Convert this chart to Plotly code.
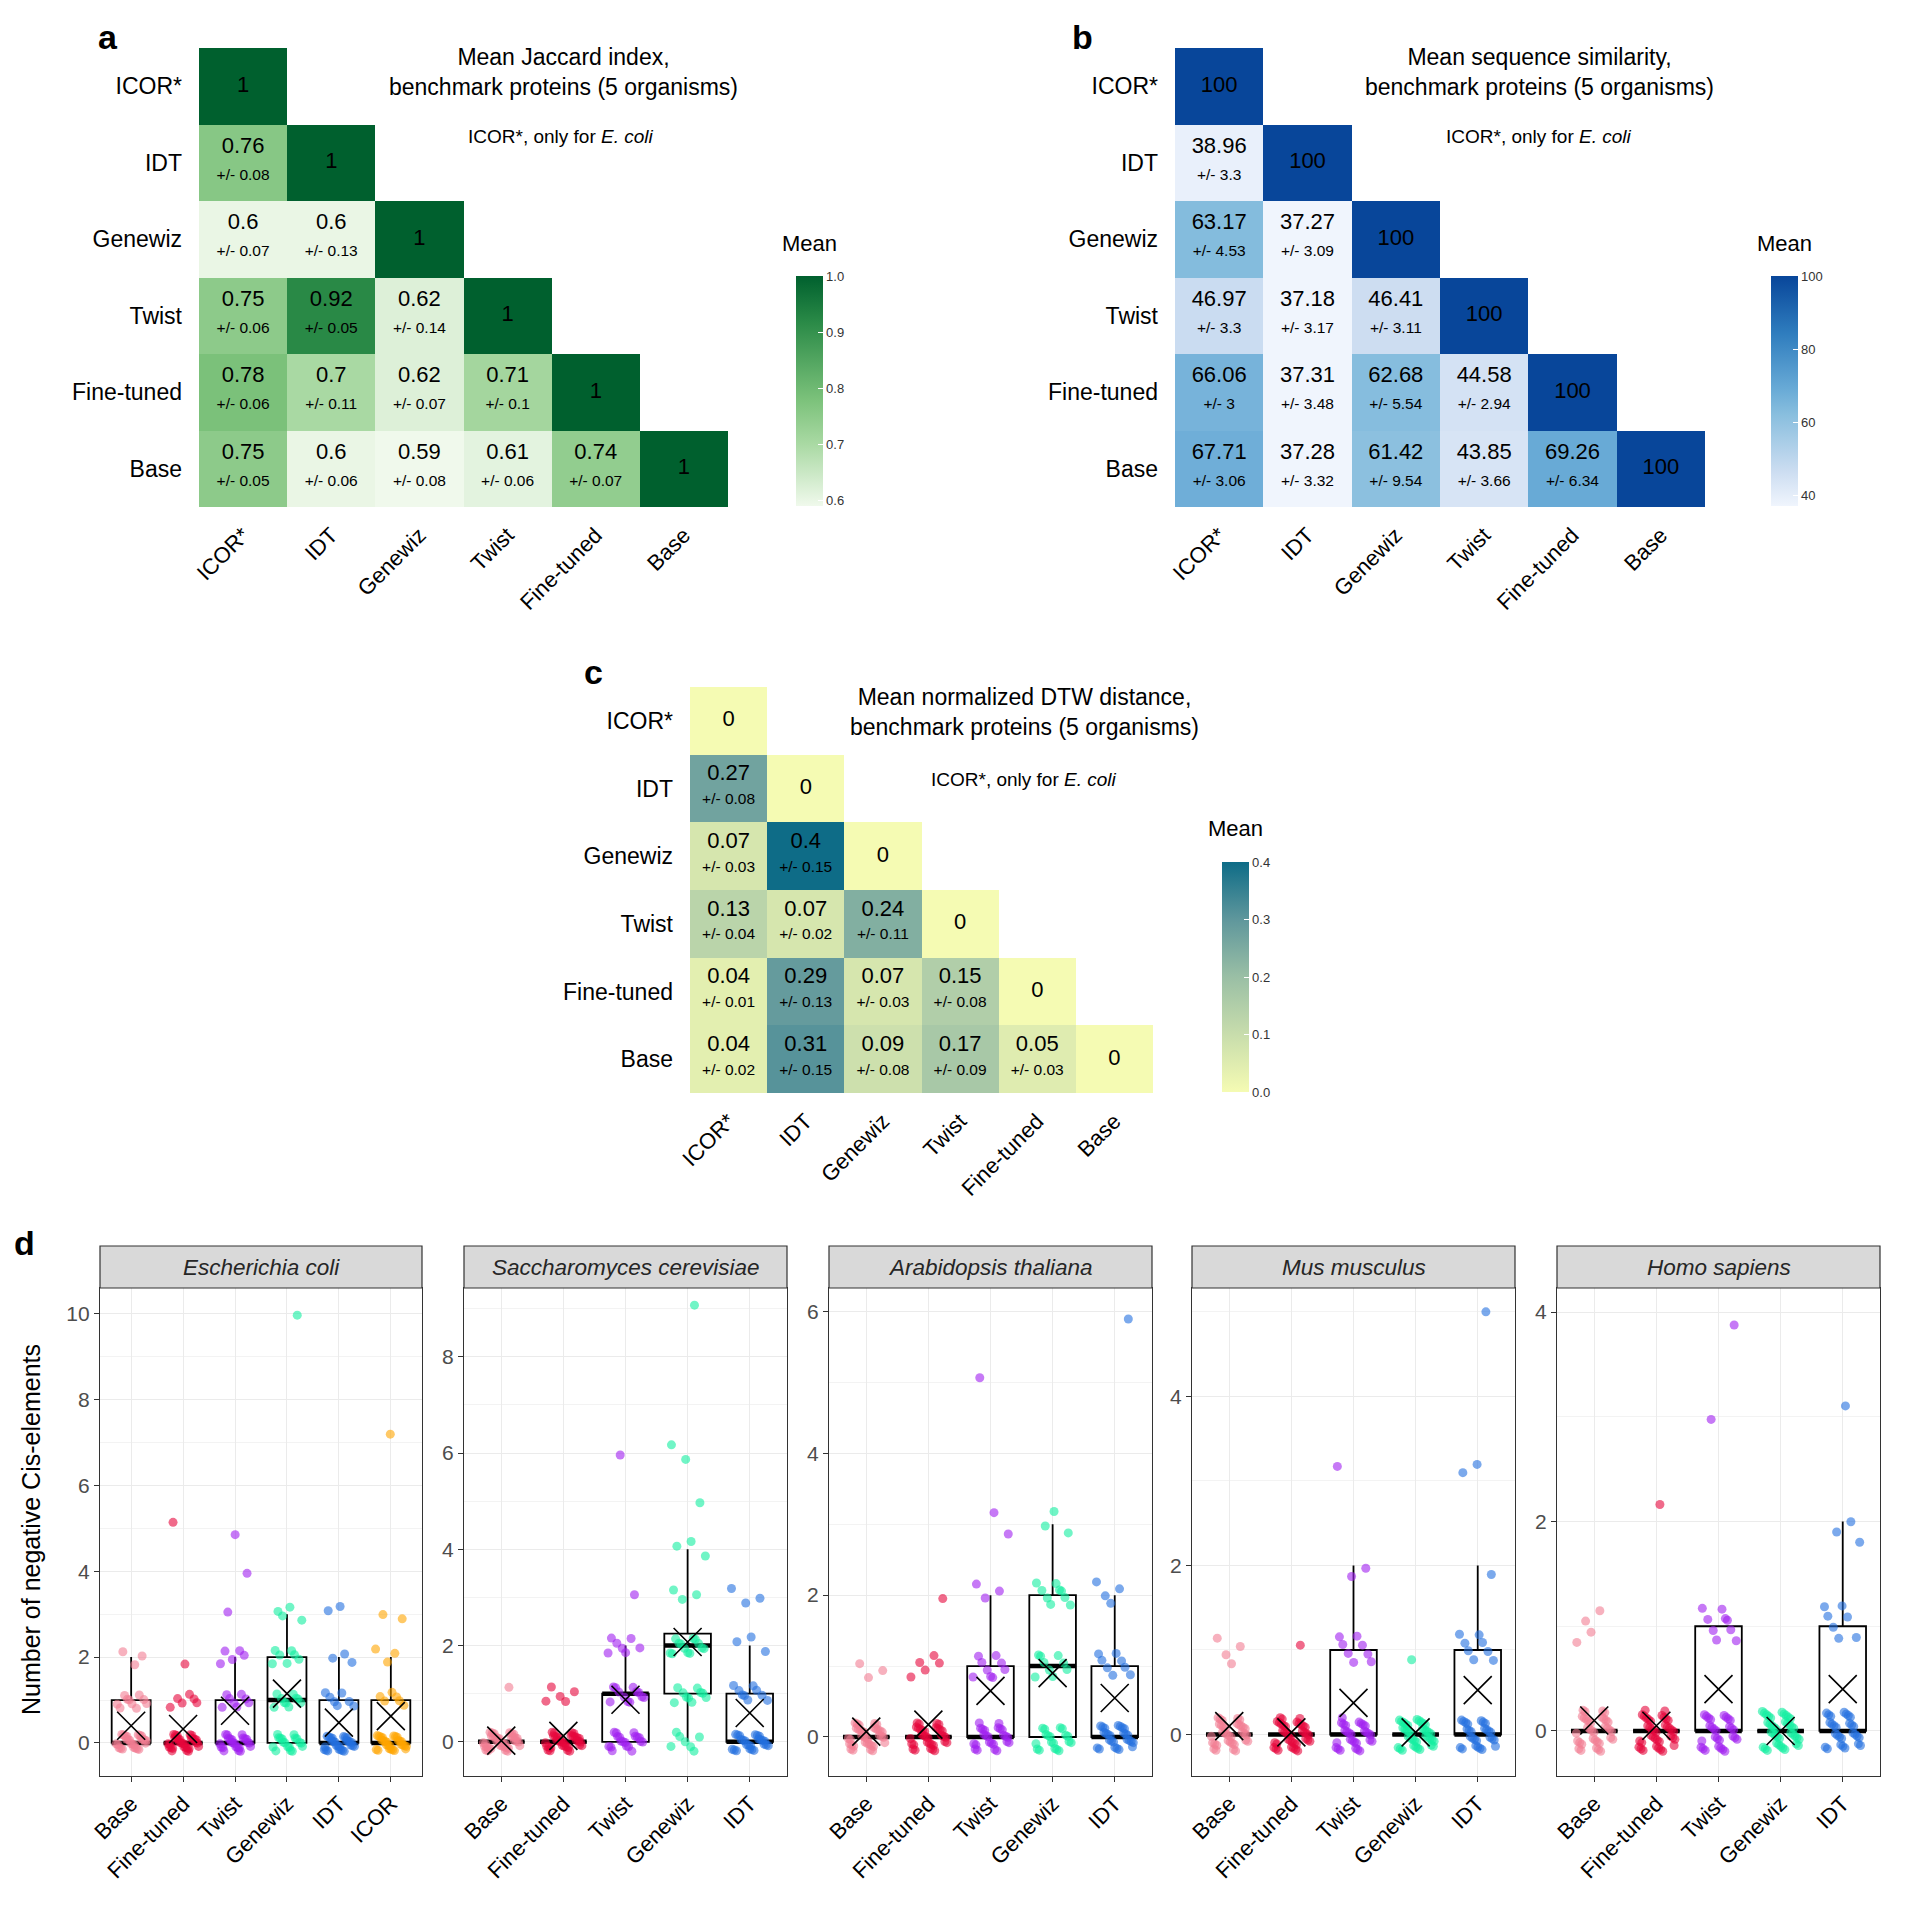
import numpy as np
import plotly.graph_objects as go

W = 1920
H = 1920
PAGE_OFFSET = 8  # default body margin of the html page
FONT = "Liberation Sans, Arial, Helvetica, sans-serif"


def fx(p):
    return (p - PAGE_OFFSET) / W


def fy(p):
    return 1 - (p - PAGE_OFFSET) / H


# ---------------- heatmap data (lower triangle rows; last entry = diagonal) ----------------
hm_labels = ["ICOR*", "IDT", "Genewiz", "Twist", "Fine-tuned", "Base"]

jaccard_mean = [[1], [0.76, 1], [0.6, 0.6, 1], [0.75, 0.92, 0.62, 1],
                [0.78, 0.7, 0.62, 0.71, 1], [0.75, 0.6, 0.59, 0.61, 0.74, 1]]
jaccard_sd = [[None], [0.08, None], [0.07, 0.13, None], [0.06, 0.05, 0.14, None],
              [0.06, 0.11, 0.07, 0.1, None], [0.05, 0.06, 0.08, 0.06, 0.07, None]]

similarity_mean = [[100], [38.96, 100], [63.17, 37.27, 100], [46.97, 37.18, 46.41, 100],
                   [66.06, 37.31, 62.68, 44.58, 100], [67.71, 37.28, 61.42, 43.85, 69.26, 100]]
similarity_sd = [[None], [3.3, None], [4.53, 3.09, None], [3.3, 3.17, 3.11, None],
                 [3, 3.48, 5.54, 2.94, None], [3.06, 3.32, 9.54, 3.66, 6.34, None]]

dtw_mean = [[0], [0.27, 0], [0.07, 0.4, 0], [0.13, 0.07, 0.24, 0],
            [0.04, 0.29, 0.07, 0.15, 0], [0.04, 0.31, 0.09, 0.17, 0.05, 0]]
dtw_sd = [[None], [0.08, None], [0.03, 0.15, None], [0.04, 0.02, 0.11, None],
          [0.01, 0.13, 0.03, 0.08, None], [0.02, 0.15, 0.08, 0.09, 0.03, None]]

# ---------------- panel d data: number of proteins at each count level ----------------
group_order = ["Base", "Fine-tuned", "Twist", "Genewiz", "IDT", "ICOR"]
group_colors = {"Base": "#F27D92", "Fine-tuned": "#E6073C", "Twist": "#A020F0",
                "Genewiz": "#12EFA0", "IDT": "#2370E0", "ICOR": "#FFA500"}

ecoli_counts = {
    "Base": {0: 27, 1: 10, 2: 3},
    "Fine-tuned": {0: 32, 1: 6, 2: 1, 5: 1},
    "Twist": {0: 24, 1: 8, 2: 5, 3: 1, 4: 1, 5: 1},
    "Genewiz": {0: 18, 1: 10, 2: 7, 3: 4, 10: 1},
    "IDT": {0: 28, 1: 7, 2: 3, 3: 2},
    "ICOR": {0: 28, 1: 6, 2: 3, 3: 2, 7: 1},
}
scerevisiae_counts = {
    "Base": {0: 39, 1: 1},
    "Fine-tuned": {0: 35, 1: 5},
    "Twist": {0: 19, 1: 12, 2: 7, 3: 1, 6: 1},
    "Genewiz": {0: 7, 1: 10, 2: 13, 3: 3, 4: 3, 5: 1, 6: 2, 9: 1},
    "IDT": {0: 25, 1: 9, 2: 3, 3: 3},
}
athaliana_counts = {
    "Base": {0: 37, 1: 3},
    "Fine-tuned": {0: 34, 1: 5, 2: 1},
    "Twist": {0: 25, 1: 9, 2: 3, 3: 2, 5: 1},
    "Genewiz": {0: 19, 1: 9, 2: 9, 3: 3},
    "IDT": {0: 27, 1: 8, 2: 4, 6: 1},
}
mmusculus_counts = {
    "Base": {0: 36, 1: 4},
    "Fine-tuned": {0: 39, 1: 1},
    "Twist": {0: 29, 1: 8, 2: 2, 3: 1},
    "Genewiz": {0: 39, 1: 1},
    "IDT": {0: 28, 1: 8, 2: 1, 3: 2, 5: 1},
}
hsapiens_counts = {
    "Base": {0: 36, 1: 4},
    "Fine-tuned": {0: 39, 2: 1},
    "Twist": {0: 29, 1: 9, 3: 1, 4: 1},
    "Genewiz": {0: 40},
    "IDT": {0: 29, 1: 7, 2: 3, 3: 1},
}

facet_names = ["Escherichia coli", "Saccharomyces cerevisiae", "Arabidopsis thaliana",
               "Mus musculus", "Homo sapiens"]
facet_data = [ecoli_counts, scerevisiae_counts, athaliana_counts, mmusculus_counts, hsapiens_counts]

# ---------------- layout constants (pixels) ----------------
facet_x = [(100, 422), (464, 787), (829, 1152), (1192, 1515), (1557, 1880)]
facet_yranges = [[-0.77, 10.6], [-0.71, 9.43], [-0.55, 6.33], [-0.49, 5.28], [-0.43, 4.23]]
PLOT_TOP, PLOT_BOT = 1288, 1776
STRIP_TOP = 1246

fig = go.Figure()
annotations = []
shapes = []


def fmt(v):
    return f"{v:g}"


def add_heatmap(k, means, sds, colorscale, zmin, zmax, box, cb, cbticks, cbfmt,
                title_xy, title_text, sub_xy, mean_xy, letter, letter_xy):
    xa = "x" if k == 1 else f"x{k}"
    ya = "y" if k == 1 else f"y{k}"
    n = len(hm_labels)
    z = [[None] * n for _ in range(n)]
    for r, row in enumerate(means):
        for c, v in enumerate(row):
            z[r][c] = v
    fig.add_trace(go.Heatmap(
        z=z, x=list(range(n)), y=list(range(n)), colorscale=colorscale,
        zmin=zmin, zmax=zmax, xaxis=xa, yaxis=ya, hoverinfo="skip",
        colorbar=dict(
            x=fx(cb[0]), xanchor="left", y=fy(cb[1]), yanchor="top",
            len=cb[2], lenmode="pixels", thickness=27, thicknessmode="pixels",
            outlinewidth=0, xpad=0, ypad=0,
            tickvals=cbticks, ticktext=[format(t, cbfmt) for t in cbticks],
            ticks="inside", ticklen=5, tickcolor="white", tickwidth=1,
            tickfont=dict(size=13, color="#333333", family=FONT),
            title=dict(text=""),
        ),
    ))
    vx, vy, vt, sx, sy, st = [], [], [], [], [], []
    for r, row in enumerate(means):
        for c, v in enumerate(row):
            sd = sds[r][c]
            if sd is None:
                vx.append(c); vy.append(r); vt.append(fmt(v))
            else:
                vx.append(c); vy.append(r - 0.2); vt.append(fmt(v))
                sx.append(c); sy.append(r + 0.17); st.append("+/- " + fmt(sd))
    fig.add_trace(go.Scatter(x=vx, y=vy, text=vt, mode="text", xaxis=xa, yaxis=ya,
                             textfont=dict(size=22, color="black", family=FONT),
                             hoverinfo="skip", showlegend=False))
    fig.add_trace(go.Scatter(x=sx, y=sy, text=st, mode="text", xaxis=xa, yaxis=ya,
                             textfont=dict(size=15.5, color="black", family=FONT),
                             hoverinfo="skip", showlegend=False))
    axname = "xaxis" if k == 1 else f"xaxis{k}"
    ayname = "yaxis" if k == 1 else f"yaxis{k}"
    fig.update_layout(**{
        axname: dict(domain=[fx(box[0]), fx(box[1])], anchor=ya, range=[-0.5, n - 0.5],
                     tickvals=list(range(n)), ticktext=hm_labels, tickangle=-45,
                     showgrid=False, zeroline=False, showline=False, ticks="",
                     ticklabelstandoff=10,
                     tickfont=dict(size=22, color="black", family=FONT)),
        ayname: dict(domain=[fy(box[3]), fy(box[2])], anchor=xa, range=[n - 0.5, -0.5],
                     tickvals=list(range(n)), ticktext=hm_labels,
                     showgrid=False, zeroline=False, showline=False, ticks="",
                     ticklabelstandoff=16,
                     tickfont=dict(size=23, color="black", family=FONT)),
    })
    annotations.append(dict(x=fx(title_xy[0]), y=fy(title_xy[1]), xref="paper", yref="paper",
                            text=title_text, showarrow=False, xanchor="center", yanchor="middle",
                            font=dict(size=23, color="black", family=FONT)))
    annotations.append(dict(x=fx(sub_xy[0]), y=fy(sub_xy[1]), xref="paper", yref="paper",
                            text="ICOR*, only for <i>E. coli</i>", showarrow=False,
                            xanchor="center", yanchor="middle",
                            font=dict(size=19, color="black", family=FONT)))
    annotations.append(dict(x=fx(mean_xy[0]), y=fy(mean_xy[1]), xref="paper", yref="paper",
                            text="Mean", showarrow=False, xanchor="center", yanchor="bottom",
                            font=dict(size=22, color="black", family=FONT)))
    annotations.append(dict(x=fx(letter_xy[0]), y=fy(letter_xy[1]), xref="paper", yref="paper",
                            text=f"<b>{letter}</b>", showarrow=False, xanchor="center",
                            yanchor="middle", font=dict(size=34, color="black", family=FONT)))


greens = [[0, "#F0F9EC"], [0.27, "#A9D9A3"], [0.46, "#7CC27B"], [0.8, "#2A8A47"], [1, "#00602E"]]
blues = [[0, "#F0F5FD"], [0.15, "#CCDDF1"], [0.4, "#88BEDE"], [0.51, "#68AAD6"],
         [0.75, "#2F7DBE"], [1, "#08469A"]]
ylteal = [[0, "#F5FBB3"], [0.25, "#C8DDAC"], [0.5, "#9ABFA5"], [0.75, "#5F979C"], [1, "#0E6C87"]]

add_heatmap(1, jaccard_mean, jaccard_sd, greens, 0.59, 1.0,
            (199, 728, 48, 507), (796, 276, 230), [0.6, 0.7, 0.8, 0.9, 1.0], ".1f",
            (563, 72), "Mean Jaccard index,<br>benchmark proteins (5 organisms)", (561, 137),
            (809, 258), "a", (108, 37))
add_heatmap(2, similarity_mean, similarity_sd, blues, 37.18, 100,
            (1175, 1705, 48, 507), (1771, 276, 230), [40, 60, 80, 100], "d",
            (1539, 72), "Mean sequence similarity,<br>benchmark proteins (5 organisms)", (1539, 137),
            (1784, 258), "b", (1082, 37))
add_heatmap(3, dtw_mean, dtw_sd, ylteal, 0.0, 0.4,
            (690, 1153, 687, 1093), (1222, 862, 230), [0.0, 0.1, 0.2, 0.3, 0.4], ".1f",
            (1024, 712), "Mean normalized DTW distance,<br>benchmark proteins (5 organisms)", (1024, 779),
            (1235, 843), "c", (593, 672))

# ---------------- panel d ----------------
GOLD1 = 0.6180339887
GOLD2 = 0.7548776662

for f, (name, counts) in enumerate(zip(facet_names, facet_data)):
    k = 4 + f
    xa, ya = f"x{k}", f"y{k}"
    groups = [g for g in group_order if g in counts]
    n = len(groups)
    for i, g in enumerate(groups):
        vals = []
        for level, cnt in counts[g].items():
            vals += [level] * cnt
        vals = np.array(sorted(vals), dtype=float)
        q1, med, q3 = np.percentile(vals, [25, 50, 75])
        iqr = q3 - q1
        lf = vals[vals >= q1 - 1.5 * iqr].min()
        uf = vals[vals <= q3 + 1.5 * iqr].max()
        fig.add_trace(go.Box(x=[i], q1=[q1], median=[med], q3=[q3], lowerfence=[lf],
                             upperfence=[uf], width=0.75, whiskerwidth=0,
                             line=dict(color="black", width=1.8), fillcolor="white",
                             xaxis=xa, yaxis=ya, hoverinfo="skip", showlegend=False))
        fig.add_trace(go.Scatter(x=[i - 0.375, i + 0.375], y=[med, med], mode="lines",
                                 line=dict(color="black", width=4.5), xaxis=xa, yaxis=ya,
                                 hoverinfo="skip", showlegend=False))
        # jittered display positions (deterministic low-discrepancy spread)
        kk = np.arange(len(vals)) + 1 + 7 * i + 3 * f
        jx = ((kk * GOLD1 + 0.13) % 1 - 0.5) * 0.6
        jy = ((kk * GOLD2 + 0.37) % 1 - 0.5) * 0.4
        fig.add_trace(go.Scatter(x=i + jx, y=vals + jy, mode="markers",
                                 marker=dict(color=group_colors[g], size=9, opacity=0.6,
                                             line=dict(width=0)),
                                 xaxis=xa, yaxis=ya, hoverinfo="skip", showlegend=False))
        fig.add_trace(go.Scatter(x=[i], y=[vals.mean()], mode="markers",
                                 marker=dict(symbol="x-thin-open", size=28, color="black",
                                             line=dict(color="black", width=1.6)),
                                 xaxis=xa, yaxis=ya, hoverinfo="skip", showlegend=False))
    l, r = facet_x[f]
    fig.update_layout(**{
        f"xaxis{k}": dict(domain=[fx(l), fx(r)], anchor=ya, range=[-0.6, n - 0.4],
                          tickvals=list(range(n)), ticktext=groups, tickangle=-45,
                          tickfont=dict(size=22, color="black", family=FONT),
                          ticks="outside", ticklen=5, tickcolor="#333333", tickwidth=1.2,
                          showline=True, mirror=True, linecolor="#333333", linewidth=1.2,
                          showgrid=True, gridcolor="#EBEBEB", gridwidth=1.3, zeroline=False),
        f"yaxis{k}": dict(domain=[fy(PLOT_BOT), fy(PLOT_TOP)], anchor=xa,
                          range=facet_yranges[f], tickmode="linear", tick0=0, dtick=2,
                          tickfont=dict(size=21, color="#4D4D4D", family=FONT),
                          ticks="outside", ticklen=5, tickcolor="#333333", tickwidth=1.2,
                          showline=True, mirror=True, linecolor="#333333", linewidth=1.2,
                          showgrid=True, gridcolor="#EBEBEB", gridwidth=1.3, zeroline=False,
                          minor=dict(dtick=1, tick0=0, showgrid=True, gridcolor="#F3F3F3",
                                     gridwidth=0.8, ticks="")),
    })
    shapes.append(dict(type="rect", xref="paper", yref="paper", x0=fx(l), x1=fx(r),
                       y0=fy(PLOT_TOP), y1=fy(STRIP_TOP), fillcolor="#D9D9D9",
                       line=dict(color="#333333", width=1.2), layer="above"))
    annotations.append(dict(x=fx((l + r) / 2), y=fy((STRIP_TOP + PLOT_TOP) / 2), xref="paper",
                            yref="paper", text=f"<i>{name}</i>", showarrow=False,
                            xanchor="center", yanchor="middle",
                            font=dict(size=22.5, color="#262626", family=FONT)))

annotations.append(dict(x=fx(31), y=fy(1530), xref="paper", yref="paper",
                        text="Number of negative Cis-elements", textangle=-90, showarrow=False,
                        xanchor="center", yanchor="middle",
                        font=dict(size=25, color="black", family=FONT)))
annotations.append(dict(x=fx(24), y=fy(1243), xref="paper", yref="paper", text="<b>d</b>",
                        showarrow=False, xanchor="center", yanchor="middle",
                        font=dict(size=34, color="black", family=FONT)))

fig.update_layout(width=W, height=H,
                  margin=dict(l=0, r=0, t=0, b=0, autoexpand=False),
                  paper_bgcolor="white", plot_bgcolor="white", showlegend=False,
                  font=dict(family=FONT), annotations=annotations, shapes=shapes)

fig.write_html("out.html")
